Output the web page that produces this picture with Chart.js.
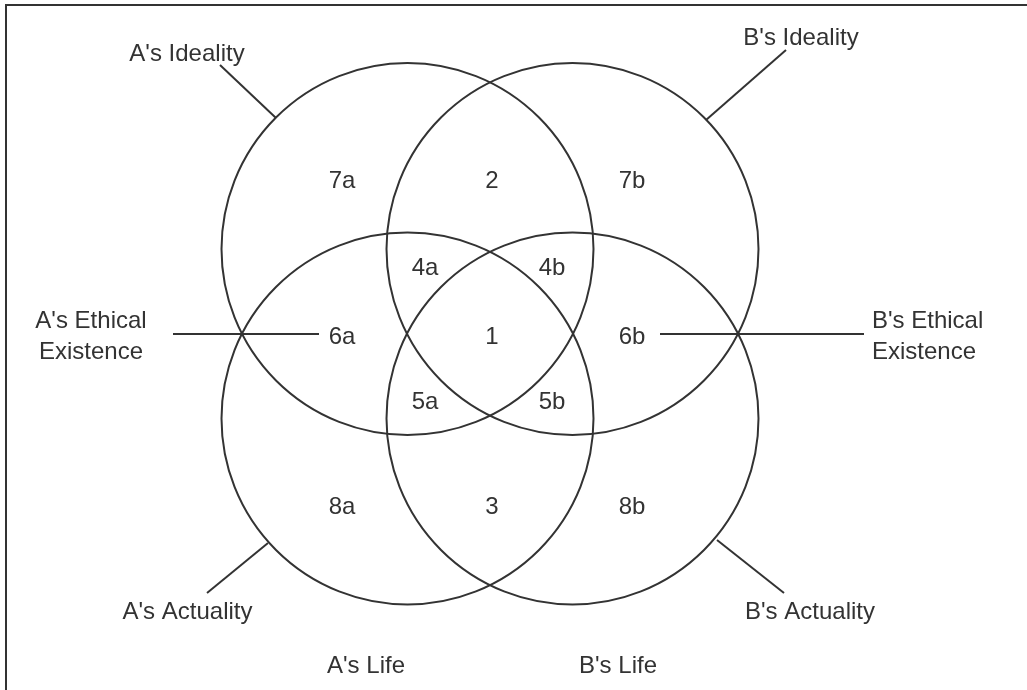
<!DOCTYPE html>
<html>
<head>
<meta charset="utf-8">
<title>A and B - ethical existence</title>
<script src="https://cdn.jsdelivr.net/npm/chart.js@4.4.1/dist/chart.umd.min.js"></script>
<style>
    html, body { margin: 0; padding: 0; background: #fff; overflow: hidden; }
    #frame {
        position: absolute; left: 5px; top: 4px; width: 1100px; height: 800px;
        border-left: 2px solid #333; border-top: 2px solid #333;
    }
    #venn { position: absolute; left: 0; top: 0; }
</style>
</head>
<body>
<div id="frame"></div>
<canvas id="venn" width="1027" height="690"></canvas>
<script>
// four circles (diagram units, y grows downward; axes are 1 unit = 1 px)
const circleNames = ["A's Ideality", "B's Ideality", "A's Actuality", "B's Actuality"];
const circleX = [407.5, 572.5, 407.5, 572.5];
const circleY = [249, 249, 418.5, 418.5];
const circleR = [186, 186, 186, 186];

// numbered regions
const regionLabels = ['7a', '2', '7b', '4a', '4b', '6a', '1', '6b', '5a', '5b', '8a', '3', '8b'];
const regionX = [342, 492, 632, 425, 552, 342, 492, 632, 425, 552, 342, 492, 632];
const regionY = [179, 179, 179, 266, 266, 335, 335, 335, 400, 400, 505, 505, 505];

// outside labels
const outerLabels = [["A's Ideality"], ["B's Ideality"], ["A's Ethical", 'Existence'], ["B's Ethical", 'Existence'],
    ["A's Actuality"], ["B's Actuality"], ["A's Life"], ["B's Life"]];
const outerX = [187, 801, 91, 872, 187.5, 810, 366, 618];
const outerY = [52, 36, 334.5, 334.5, 610, 610, 664, 664];

// leader lines: [from, to]
const leaderFromX = [220, 786, 173, 660, 207, 784];
const leaderFromY = [65, 50, 334, 334, 593, 593];
const leaderToX = [276, 706, 319, 864, 268, 717];
const leaderToY = [118, 120, 334, 334, 543, 540];

const ink = '#333';
const fontSize = 24;
const lineGap = 31;
const outerAlign = ['center', 'center', 'center', 'left', 'center', 'center', 'center', 'center'];

const textPlugin = {
    id: 'vennText',
    afterDatasetsDraw(chart) {
        const { ctx, scales: { x, y } } = chart;
        ctx.save();
        ctx.fillStyle = ink;
        ctx.font = `${fontSize}px "Liberation Sans", Arial, sans-serif`;
        ctx.textBaseline = 'alphabetic';
        const capHalf = fontSize * 0.36;

        ctx.textAlign = 'center';
        regionLabels.forEach((t, i) => {
            ctx.fillText(t, x.getPixelForValue(regionX[i]), y.getPixelForValue(regionY[i]) + capHalf);
        });

        outerLabels.forEach((lines, i) => {
            ctx.textAlign = outerAlign[i];
            const top = y.getPixelForValue(outerY[i]) - (lines.length - 1) * lineGap / 2;
            lines.forEach((t, j) => {
                ctx.fillText(t, x.getPixelForValue(outerX[i]), top + j * lineGap + capHalf);
            });
        });
        ctx.restore();
    }
};

const leaderSets = leaderFromX.map((fx, i) => ({
    type: 'line',
    data: [{ x: fx, y: leaderFromY[i] }, { x: leaderToX[i], y: leaderToY[i] }],
    borderColor: ink,
    borderWidth: 2,
    pointRadius: 0,
    fill: false,
    clip: false
}));

new Chart(document.getElementById('venn'), {
    type: 'bubble',
    data: {
        datasets: [{
            label: 'circles',
            data: circleX.map((cx, i) => ({ x: cx, y: circleY[i], r: circleR[i], name: circleNames[i] })),
            backgroundColor: 'rgba(0,0,0,0)',
            borderColor: ink,
            borderWidth: 2,
            clip: false
        }, ...leaderSets]
    },
    options: {
        responsive: false,
        animation: false,
        events: [],
        layout: { padding: 0, autoPadding: false },
        plugins: { legend: { display: false }, tooltip: { enabled: false } },
        scales: {
            x: { type: 'linear', min: 0, max: 1027, display: false },
            y: { type: 'linear', min: 0, max: 690, reverse: true, display: false }
        }
    },
    plugins: [textPlugin]
});
</script>
</body>
</html>
